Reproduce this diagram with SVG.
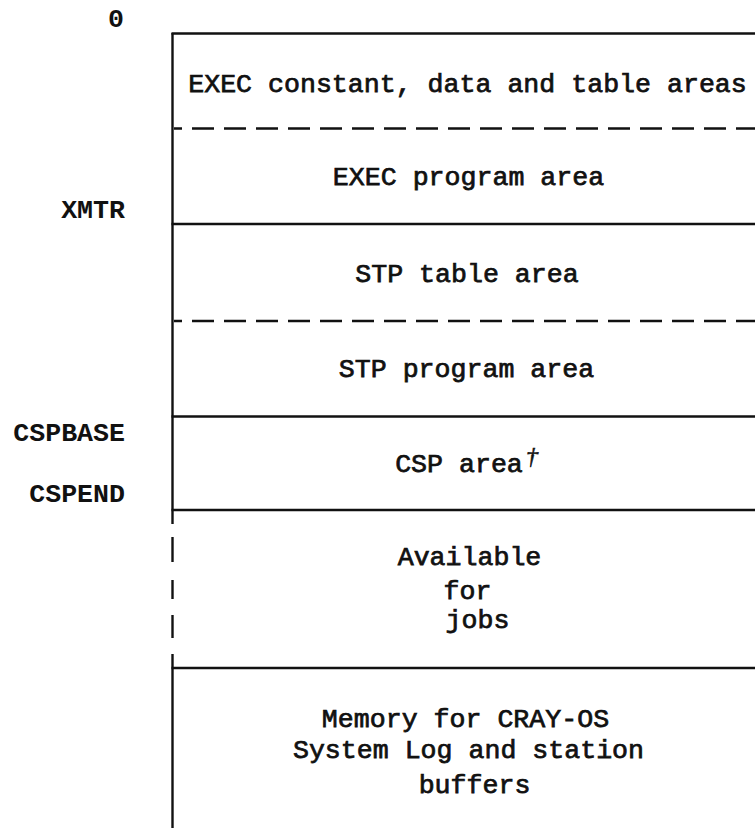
<svg xmlns="http://www.w3.org/2000/svg" width="755" height="828" viewBox="0 0 755 828">
<style>
.ln{stroke:#111;stroke-width:2.4;fill:none}
.ds{stroke:#111;stroke-width:2.4;fill:none;stroke-dasharray:22 10}
.t{font-family:"Liberation Mono","Courier New",monospace;font-size:26.6px;fill:#111;stroke:#111;stroke-width:0.75;text-anchor:middle}
.lb{font-family:"Liberation Mono","Courier New",monospace;font-size:26.6px;font-weight:bold;fill:#111;text-anchor:end}
.dg{font-family:"Liberation Serif",serif;font-style:italic;font-size:24px;fill:#111;stroke:#111;stroke-width:0.6}
</style>
<rect width="755" height="828" fill="#fff"/>
<g id="frame">
<line class="ln" x1="172.5" y1="33" x2="172.5" y2="524"/>
<line class="ln" x1="172.5" y1="537" x2="172.5" y2="562"/>
<line class="ln" x1="172.5" y1="580" x2="172.5" y2="599"/>
<line class="ln" x1="172.5" y1="615" x2="172.5" y2="638"/>
<line class="ln" x1="172.5" y1="654" x2="172.5" y2="828"/>
<line class="ln" x1="171.5" y1="33.5" x2="755" y2="33.5"/>
<line class="ds" x1="174" y1="128.5" x2="755" y2="128.5" stroke-dashoffset="14"/>
<line class="ln" x1="171.5" y1="224" x2="755" y2="224"/>
<line class="ds" x1="174" y1="321" x2="755" y2="321" stroke-dashoffset="14"/>
<line class="ln" x1="171.5" y1="416.5" x2="755" y2="416.5"/>
<line class="ln" x1="171.5" y1="510" x2="755" y2="510"/>
<line class="ln" x1="171.5" y1="668" x2="755" y2="668"/>
</g>
<g id="labels">
<text class="lb" x="124" y="27">0</text>
<text class="lb" x="125" y="218">XMTR</text>
<text class="lb" x="125" y="441">CSPBASE</text>
<text class="lb" x="125" y="502">CSPEND</text>
</g>
<g id="exec-data"><text class="t" x="467.5" y="92">EXEC constant, data and table areas</text></g>
<g id="exec-program"><text class="t" x="468.5" y="185">EXEC program area</text></g>
<g id="stp-table"><text class="t" x="467" y="282">STP table area</text></g>
<g id="stp-program"><text class="t" x="466.5" y="377">STP program area</text></g>
<g id="csp-area"><text class="t" x="459" y="472">CSP area</text><text class="dg" x="526" y="464">†</text></g>
<g id="available">
<text class="t" x="469.5" y="565">Available</text>
<text class="t" x="467.5" y="599">for</text>
<text class="t" x="477.5" y="628">jobs</text>
</g>
<g id="memory">
<text class="t" x="465.5" y="727">Memory for CRAY-OS</text>
<text class="t" x="468.5" y="758">System Log and station</text>
<text class="t" x="474.5" y="793">buffers</text>
</g>
<g id="connectors"/>
</svg>
